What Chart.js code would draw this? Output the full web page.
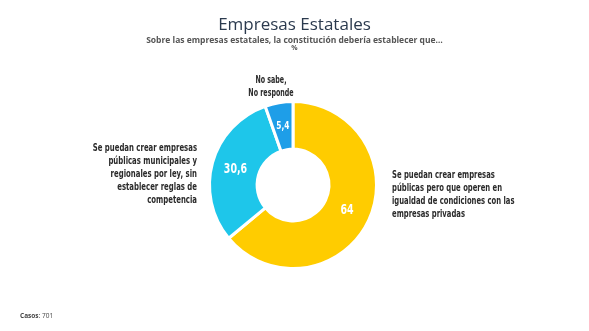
<!DOCTYPE html>
<html>
<head>
<meta charset="utf-8">
<script src="https://cdn.jsdelivr.net/npm/chart.js@4"></script>
<style>
  html, body { margin: 0; padding: 0; background: #fff; }
  #wrap { position: relative; width: 589px; height: 331px; overflow: hidden; }
  canvas { position: absolute; left: 0; top: 0; }
  .t { position: absolute; white-space: nowrap; }
  #title { left: 0; width: 589px; top: 12px; text-align: center; font: 17px "Open Sans", sans-serif; color: #2b3a4e; }
  #sub { left: 0; width: 589px; top: 34px; text-align: center; font: bold 8.5px "Open Sans", sans-serif; color: #555; }
  #pct { left: 0; width: 589px; top: 43px; text-align: center; font: bold 7px "Open Sans", sans-serif; color: #555; }
  .lab { font: bold 11px "DejaVu Sans Condensed", "DejaVu Sans", sans-serif; color: #2a2a2a; line-height: 13px; }
  #casos { left: 20px; top: 311px; font: 6.5px "Open Sans", sans-serif; color: #444; }
</style>
</head>
<body>
<div id="wrap">
  <canvas id="c" width="589" height="331"></canvas>
  <div class="t" id="title">Empresas Estatales</div>
  <div class="t" id="sub">Sobre las empresas estatales, la constitución debería establecer que…</div>
  <div class="t" id="pct">%</div>
  <div class="t lab" style="left:231px; top:73px; width:80px; text-align:center; transform:scaleX(0.64); transform-origin:center;">No sabe,<br>No responde</div>
  <div class="t lab" style="right:392px; top:141px; text-align:right; transform:scaleX(0.70); transform-origin:right;">Se puedan crear empresas<br>públicas municipales y<br>regionales por ley, sin<br>establecer reglas de<br>competencia</div>
  <div class="t lab" style="left:392px; top:168px; text-align:left; transform:scaleX(0.69); transform-origin:left;">Se puedan crear empresas<br>públicas pero que operen en<br>igualdad de condiciones con las<br>empresas privadas</div>
  <div class="t" id="casos"><b>Casos</b>: 701</div>
</div>
<script>
const categories = [
  'Se puedan crear empresas públicas pero que operen en igualdad de condiciones con las empresas privadas',
  'Se puedan crear empresas públicas municipales y regionales por ley, sin establecer reglas de competencia',
  'No sabe, No responde'
];
const values = [64, 30.6, 5.4];
const colors = ['#FFCC00', '#1EC6EA', '#1E9EE8'];
const valueFontSizes = [14, 14, 11];

// white value text in the middle of each slice, squeezed to look condensed
const valueLabels = {
  id: 'valueLabels',
  afterDatasetsDraw(chart) {
    const ctx = chart.ctx;
    const meta = chart.getDatasetMeta(0);
    meta.data.forEach((arc, i) => {
      const p = arc.tooltipPosition();
      ctx.save();
      ctx.translate(p.x, p.y);
      ctx.scale(0.75, 1);
      ctx.fillStyle = '#fff';
      ctx.font = 'bold ' + valueFontSizes[i] + 'px "DejaVu Sans Condensed", "DejaVu Sans", sans-serif';
      ctx.textAlign = 'center';
      ctx.textBaseline = 'middle';
      ctx.fillText(String(values[i]).replace('.', ','), 0, 0);
      ctx.restore();
    });
  }
};

new Chart(document.getElementById('c'), {
  type: 'doughnut',
  data: {
    labels: categories,
    datasets: [{ data: values, backgroundColor: colors, borderColor: '#fff', borderWidth: 3 }]
  },
  options: {
    responsive: false,
    animation: false,
    cutout: '43%',
    layout: { padding: { top: 100, bottom: 61, left: 208, right: 211 } },
    plugins: { legend: { display: false }, tooltip: { enabled: false } }
  },
  plugins: [valueLabels]
});
</script>
</body>
</html>
